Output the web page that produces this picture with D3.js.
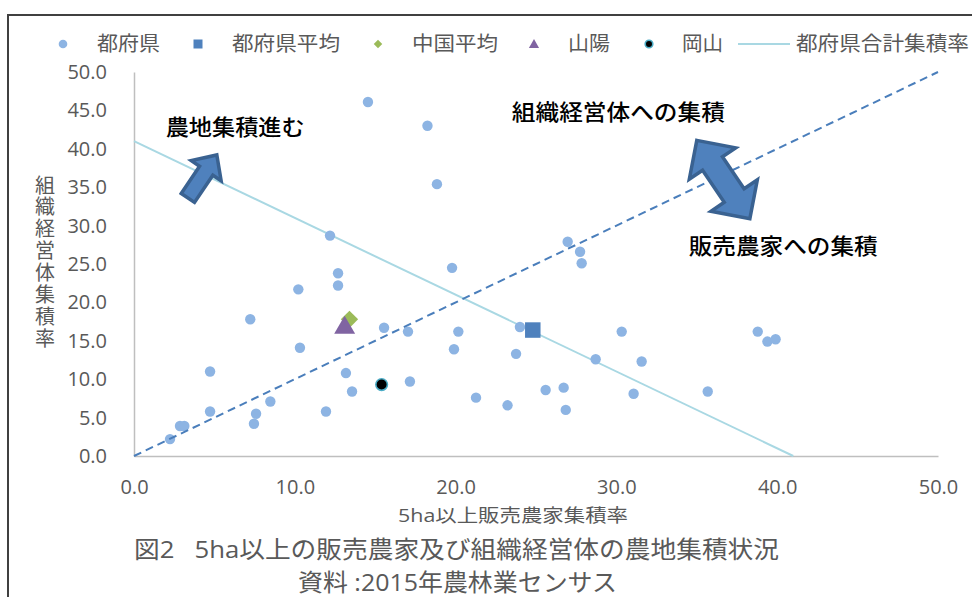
<!DOCTYPE html>
<html>
<head>
<meta charset="utf-8">
<script src="https://cdn.jsdelivr.net/npm/d3@7/dist/d3.min.js"></script>
<style>
body { margin: 0; background: #fff; }
svg { display: block; }
</style>
</head>
<body>
<div id="chart"></div>
<script>
// 都府県 (x: 5ha以上販売農家集積率, y: 組織経営体集積率)
var prefX = [14.55, 18.25, 18.84, 12.19, 12.69, 12.69, 10.22, 7.23, 10.32, 15.55, 17.04,
	4.73, 13.18, 17.16, 13.56, 8.48, 4.73, 7.59, 11.94, 7.46, 2.86, 3.13, 2.24,
	26.97, 27.74, 27.84, 19.78, 20.17, 19.90, 24.0, 23.76, 30.33, 28.71, 31.57,
	38.79, 39.39, 39.90, 21.27, 23.23, 25.6, 26.72, 26.85, 31.07, 35.68];
var prefY = [46.1, 43.0, 35.4, 28.7, 23.8, 22.2, 21.7, 17.8, 14.1, 16.7, 16.2,
	11.0, 10.8, 9.7, 8.4, 7.1, 5.8, 5.5, 5.8, 4.2, 3.9, 3.9, 2.2,
	27.9, 26.6, 25.1, 24.5, 16.2, 13.9, 16.8, 13.3, 16.2, 12.6, 12.3,
	16.2, 14.9, 15.2, 7.6, 6.6, 8.6, 8.9, 6.0, 8.1, 8.4];

var prefAvgX = [24.8], prefAvgY = [16.4];     // 都府県平均
var chugokuX = [13.4], chugokuY = [17.8];     // 中国平均
var sanyoX = [13.1], sanyoY = [16.7];         // 山陽
var okayamaX = [15.4], okayamaY = [9.3];      // 岡山
var totalX = [0, 41], totalY = [41, 0];       // 都府県合計集積率
var refX = [0, 50], refY = [0, 50];           // 1:1 line

var xTicks = [0, 10, 20, 30, 40, 50];
var yTicks = [0, 5, 10, 15, 20, 25, 30, 35, 40, 45, 50];
var legendLabels = ["都府県", "都府県平均", "中国平均", "山陽", "岡山", "都府県合計集積率"];

var WIDTH = 972, HEIGHT = 597;
var GRAY_TEXT = "#595959";
var FONT = "'Open Sans', 'Noto Sans CJK JP', sans-serif";
var CJK = "'Noto Sans CJK JP', sans-serif";

var svg = d3.select("#chart").append("svg")
	.attr("width", WIDTH).attr("height", HEIGHT);

// outer frame (right / bottom edges fall outside the picture)
svg.append("rect")
	.attr("x", 8).attr("y", 15)
	.attr("width", 1000).attr("height", 700)
	.attr("fill", "none").attr("stroke", "#404040").attr("stroke-width", 2);

var x = d3.scaleLinear().domain([0, 50]).range([134, 938]);
var y = d3.scaleLinear().domain([0, 50]).range([456, 72]);

// axes
var yAxisG = svg.append("g").attr("transform", "translate(134,0)")
	.call(d3.axisLeft(y).tickValues(yTicks).tickFormat(d3.format(".1f"))
		.tickSize(0).tickPadding(27));
var xAxisG = svg.append("g").attr("transform", "translate(0,456)")
	.call(d3.axisBottom(x).tickValues(xTicks).tickFormat(d3.format(".1f"))
		.tickSize(0).tickPadding(24));

[xAxisG, yAxisG].forEach(function(g) {
	g.select(".domain").attr("stroke", "#bfbfbf").attr("stroke-width", 1.5);
	g.selectAll("text")
		.attr("fill", GRAY_TEXT)
		.style("font-family", FONT)
		.style("font-size", "20px");
});

// lines
var line = d3.line().x(function(d) { return x(d[0]); }).y(function(d) { return y(d[1]); });

svg.append("path")
	.datum(totalX.map(function(v, i) { return [v, totalY[i]]; }))
	.attr("d", line)
	.attr("fill", "none").attr("stroke", "#a9d8e3").attr("stroke-width", 2);

// markers
svg.append("g").selectAll("circle")
	.data(prefX.map(function(v, i) { return [v, prefY[i]]; }))
	.enter().append("circle")
	.attr("cx", function(d) { return x(d[0]); })
	.attr("cy", function(d) { return y(d[1]); })
	.attr("r", 5.2)
	.attr("fill", "#8db4e3");

svg.append("path")
	.datum(refX.map(function(v, i) { return [v, refY[i]]; }))
	.attr("d", line)
	.attr("fill", "none").attr("stroke", "#4a7ebb").attr("stroke-width", 2)
	.attr("stroke-dasharray", "8,5");

var symSquare = d3.symbol().type(d3.symbolSquare);
var symDiamond = d3.symbol().type(d3.symbolSquare);
var symTriangle = d3.symbol().type(d3.symbolTriangle);

svg.append("path")
	.attr("transform", "translate(" + x(prefAvgX[0]) + "," + y(prefAvgY[0]) + ")")
	.attr("d", symSquare.size(240)())
	.attr("fill", "#4f81bd");

svg.append("path")
	.attr("transform", "translate(" + x(chugokuX[0]) + "," + y(chugokuY[0]) + ") rotate(45)")
	.attr("d", symDiamond.size(150)())
	.attr("fill", "#9bbb59");

svg.append("path")
	.attr("transform", "translate(" + x(sanyoX[0]) + "," + y(sanyoY[0]) + ")")
	.attr("d", symTriangle.size(190)())
	.attr("fill", "#8064a2");

svg.append("circle")
	.attr("cx", x(okayamaX[0])).attr("cy", y(okayamaY[0]))
	.attr("r", 5.8)
	.attr("fill", "#000").attr("stroke", "#4bacc6").attr("stroke-width", 1.6);

// block arrows (annotations), positions given in data units
function blockArrow(p0, p1, headHalf, headLen, shaftHalf, twoHeads) {
	var x0 = x(p0[0]), y0 = y(p0[1]), x1 = x(p1[0]), y1 = y(p1[1]);
	var len = Math.hypot(x1 - x0, y1 - y0);
	var ang = Math.atan2(y1 - y0, x1 - x0) * 180 / Math.PI;
	var pts;
	if (twoHeads) {
		pts = [[0, 0], [headLen, -headHalf], [headLen, -shaftHalf], [len - headLen, -shaftHalf],
			[len - headLen, -headHalf], [len, 0], [len - headLen, headHalf], [len - headLen, shaftHalf],
			[headLen, shaftHalf], [headLen, headHalf]];
	} else {
		pts = [[0, -shaftHalf], [len - headLen, -shaftHalf], [len - headLen, -headHalf], [len, 0],
			[len - headLen, headHalf], [len - headLen, shaftHalf], [0, shaftHalf]];
	}
	svg.append("path")
		.attr("transform", "translate(" + x0 + "," + y0 + ") rotate(" + ang + ")")
		.attr("d", "M" + pts.map(function(p) { return p.join(","); }).join("L") + "Z")
		.attr("fill", "#4f81bd")
		.attr("stroke", "#3a6291")
		.attr("stroke-width", 3.5)
		.attr("stroke-linejoin", "miter");
}
blockArrow([3.35, 33.6], [5.15, 39.2], 18, 19, 8, false);
blockArrow([35.0, 41.1], [38.3, 30.9], 28, 28, 12, true);

// annotation texts
var notes = [
	{ text: "農地集積進む", x: 1.97, y: 42.8, w: 139 },
	{ text: "組織経営体への集積", x: 23.5, y: 44.8, w: 213 },
	{ text: "販売農家への集積", x: 34.5, y: 27.3, w: 189 }
];
svg.append("g").selectAll("text")
	.data(notes).enter().append("text")
	.attr("x", function(d) { return x(d.x); })
	.attr("y", function(d) { return y(d.y); })
	.attr("dy", "0.36em")
	.attr("textLength", function(d) { return d.w; })
	.attr("lengthAdjust", "spacingAndGlyphs")
	.attr("fill", "#000")
	.style("font-family", CJK)
	.style("font-size", "22px")
	.style("font-weight", 500)
	.text(function(d) { return d.text; });

// legend
var legendPos = [
	{ mx: 63, tx: 97, tw: 63 },
	{ mx: 198, tx: 232, tw: 108 },
	{ mx: 378, tx: 412, tw: 86 },
	{ mx: 534, tx: 568, tw: 42 },
	{ mx: 649, tx: 682, tw: 41 },
	{ mx: 764, tx: 796, tw: 173 }
];
var LY = 44;
var legend = svg.append("g");
legend.append("circle").attr("cx", legendPos[0].mx).attr("cy", LY).attr("r", 4.3).attr("fill", "#8db4e3");
legend.append("rect").attr("x", legendPos[1].mx - 4.5).attr("y", LY - 4.5).attr("width", 9).attr("height", 9).attr("fill", "#4f81bd");
legend.append("path").attr("transform", "translate(" + legendPos[2].mx + "," + LY + ") rotate(45)")
	.attr("d", symDiamond.size(36)()).attr("fill", "#9bbb59");
legend.append("path").attr("transform", "translate(" + legendPos[3].mx + "," + (LY + 1) + ")")
	.attr("d", symTriangle.size(45)()).attr("fill", "#8064a2");
legend.append("circle").attr("cx", legendPos[4].mx).attr("cy", LY).attr("r", 3.8)
	.attr("fill", "#000").attr("stroke", "#4bacc6").attr("stroke-width", 1.6);
legend.append("line").attr("x1", 738).attr("x2", 790).attr("y1", LY).attr("y2", LY)
	.attr("stroke", "#a9d8e3").attr("stroke-width", 2);

legend.selectAll("text")
	.data(legendLabels).enter().append("text")
	.attr("x", function(d, i) { return legendPos[i].tx; })
	.attr("y", LY)
	.attr("dy", "0.36em")
	.attr("textLength", function(d, i) { return legendPos[i].tw; })
	.attr("lengthAdjust", "spacingAndGlyphs")
	.attr("fill", GRAY_TEXT)
	.style("font-family", CJK)
	.style("font-size", "20px")
	.text(function(d) { return d; });

// axis titles
svg.append("text")
	.attr("x", 398).attr("y", 516).attr("dy", "0.36em")
	.attr("textLength", 230).attr("lengthAdjust", "spacingAndGlyphs")
	.attr("fill", GRAY_TEXT)
	.style("font-family", FONT).style("font-size", "18px")
	.text("5ha以上販売農家集積率");

// vertical y title as a single text run
svg.append("text")
	.attr("x", 45).attr("y", 175)
	.attr("fill", GRAY_TEXT)
	.style("font-family", CJK).style("font-size", "20px")
	.style("writing-mode", "vertical-rl")
	.style("text-orientation", "upright")
	.style("letter-spacing", "1.9px")
	.text("組織経営体集積率");

// caption
svg.append("text")
	.attr("x", 134).attr("y", 549).attr("dy", "0.36em")
	.attr("textLength", 645).attr("lengthAdjust", "spacingAndGlyphs")
	.attr("fill", GRAY_TEXT)
	.style("font-family", FONT).style("font-size", "24px")
	.text("図2\u00a0\u00a0\u00a05ha以上の販売農家及び組織経営体の農地集積状況");
svg.append("text")
	.attr("x", 298).attr("y", 582).attr("dy", "0.36em")
	.attr("textLength", 319).attr("lengthAdjust", "spacingAndGlyphs")
	.attr("fill", GRAY_TEXT)
	.style("font-family", FONT).style("font-size", "24px")
	.text("資料 :2015年農林業センサス");
</script>
</body>
</html>
